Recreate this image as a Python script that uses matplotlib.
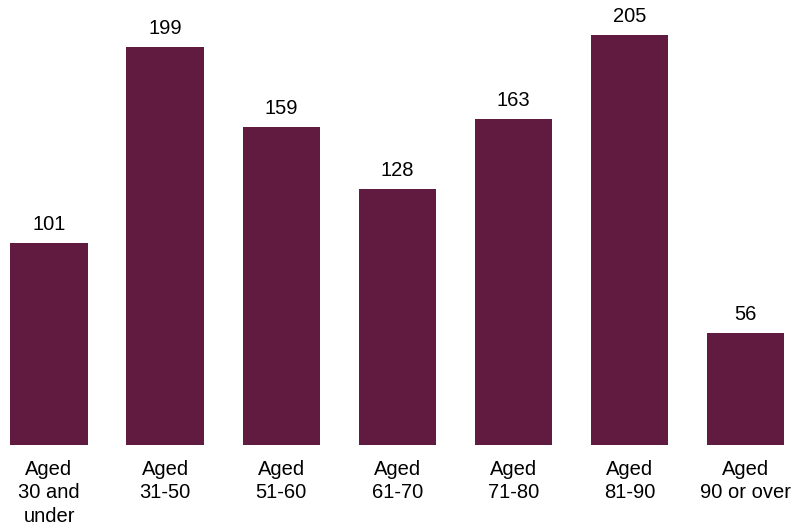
import matplotlib
matplotlib.use("Agg")
import matplotlib.pyplot as plt

categories = ["Aged\n30 and\nunder", "Aged\n31-50", "Aged\n51-60", "Aged\n61-70",
              "Aged\n71-80", "Aged\n81-90", "Aged\n90 or over"]
values = [101, 199, 159, 128, 163, 205, 56]

plt.rcParams['font.family'] = ['Liberation Sans', 'DejaVu Sans']

W, H = 791, 525
fig = plt.figure(figsize=(W / 100, H / 100), dpi=100)
y0 = 445
ax = fig.add_axes([0, (H - y0) / H, 1, y0 / H])

x = list(range(len(values)))
bars = ax.bar(x, values, width=0.665, color="#611B40")
step = 116.08
ax.set_xlim(-49 / step, 6 + (W - 745.5) / step)
ax.set_ylim(0, y0 / 2.0)

for xi, v in zip(x, values):
    ax.annotate(str(v), (xi, v), xytext=(0, 6.5), textcoords="offset points",
                ha="center", va="bottom", fontsize=14.5, color="#000000")

ax.set_xticks(x)
ax.set_xticklabels(categories, fontsize=14.5, linespacing=1.28)
ax.tick_params(axis="x", length=0, pad=11)
ax.set_yticks([])
for s in ax.spines.values():
    s.set_visible(False)

fig.savefig("out.png", dpi=100)
